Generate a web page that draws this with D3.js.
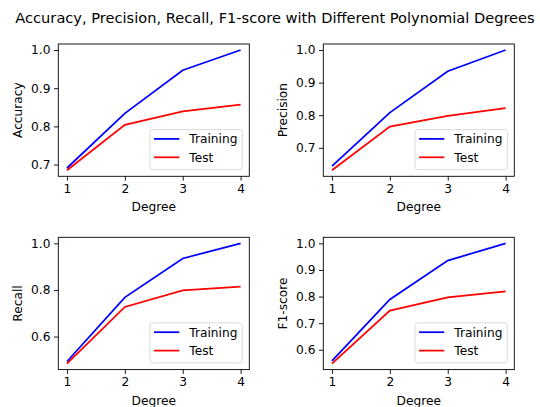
<!DOCTYPE html>
<html>
<head>
<meta charset="utf-8">
<script src="https://cdn.jsdelivr.net/npm/d3@7"></script>
<style>
  body { margin: 0; background: #fff; }
  text { font-family: "DejaVu Sans", sans-serif; fill: #000; }
</style>
</head>
<body>
<div id="chart"></div>
<script>
// data
const degrees = [1, 2, 3, 4];
const accuracyTrain = [0.691, 0.834, 0.947, 1.0];
const accuracyTest = [0.685, 0.804, 0.839, 0.857];
const precisionTrain = [0.644, 0.808, 0.935, 1.0];
const precisionTest = [0.631, 0.765, 0.798, 0.822];
const recallTrain = [0.493, 0.768, 0.935, 1.0];
const recallTest = [0.484, 0.727, 0.798, 0.814];
const f1Train = [0.558, 0.789, 0.935, 1.0];
const f1Test = [0.548, 0.747, 0.797, 0.819];
const accuracyTicks = [0.7, 0.8, 0.9, 1.0];
const precisionTicks = [0.7, 0.8, 0.9, 1.0];
const recallTicks = [0.6, 0.8, 1.0];
const f1Ticks = [0.6, 0.7, 0.8, 0.9, 1.0];
const seriesNames = ['Training', 'Test'];
const seriesColors = ['#0000ff', '#ff0000'];

const W = 540, H = 407;
const fs = '12.2px';
const svg = d3.select('#chart').append('svg')
    .attr('width', W).attr('height', H);

const title = svg.append('text')
    .attr('x', 275).attr('y', 22.5)
    .attr('text-anchor', 'middle')
    .style('font-size', '14.6px')
    .text('Accuracy, Precision, Recall, F1-score with Different Polynomial Degrees');
// fit the title to the width it has in the reference (x 15 .. 535)
const tw = title.node().getComputedTextLength();
title.style('font-size', (14.6 * 519 / tw).toFixed(2) + 'px');

const panels = [
    { label: 'Accuracy', train: accuracyTrain, test: accuracyTest, ticks: accuracyTicks, left: 58.3, top: 44 },
    { label: 'Precision', train: precisionTrain, test: precisionTest, ticks: precisionTicks, left: 323.3, top: 44 },
    { label: 'Recall', train: recallTrain, test: recallTest, ticks: recallTicks, left: 58.3, top: 237.3 },
    { label: 'F1-score', train: f1Train, test: f1Test, ticks: f1Ticks, left: 323.3, top: 237.3 }
];
const pw = 191, ph = 132.3;

panels.forEach(p => {
    const g = svg.append('g').attr('transform', `translate(${p.left},${p.top})`);

    const all = p.train.concat(p.test);
    const lo = d3.min(all), hi = d3.max(all), pad = (hi - lo) * 0.05;
    const x = d3.scaleLinear().domain([1 - 0.15, 4 + 0.15]).range([0, pw]);
    const y = d3.scaleLinear().domain([lo - pad, hi + pad]).range([ph, 0]);

    const xAxis = g.append('g').attr('transform', `translate(0,${ph})`)
        .call(d3.axisBottom(x).tickValues(degrees).tickFormat(d3.format('d')).tickSize(4.3).tickPadding(3.5));
    const yAxis = g.append('g')
        .call(d3.axisLeft(y).tickValues(p.ticks).tickFormat(d3.format('.1f')).tickSize(4.3).tickPadding(3.5));
    [xAxis, yAxis].forEach(a => {
        a.select('.domain').remove();
        a.selectAll('line').attr('stroke', '#000').attr('stroke-width', 0.9);
        a.selectAll('text').style('font-size', fs).attr('fill', '#000')
            .style('font-family', '"DejaVu Sans", sans-serif');
    });

    const line = d3.line().x((d, i) => x(degrees[i])).y(d => y(d));
    [p.train, p.test].forEach((vals, i) => {
        g.append('path').datum(vals)
            .attr('d', line)
            .attr('fill', 'none')
            .attr('stroke', seriesColors[i])
            .attr('stroke-width', 1.75);
    });

    // frame
    g.append('rect').attr('width', pw).attr('height', ph)
        .attr('fill', 'none').attr('stroke', '#000').attr('stroke-width', 0.9);

    g.append('text')
        .attr('x', pw / 2).attr('y', ph + 35)
        .attr('text-anchor', 'middle')
        .style('font-size', fs)
        .text('Degree');
    g.append('text')
        .attr('transform', `translate(-36.5,${ph / 2}) rotate(-90)`)
        .attr('text-anchor', 'middle')
        .style('font-size', fs)
        .text(p.label);

    // legend
    const lg = g.append('g').attr('transform', `translate(${pw - 99.3},${ph - 46.7})`);
    lg.append('rect').attr('width', 92.3).attr('height', 40).attr('rx', 2.5)
        .attr('fill', '#fff').attr('fill-opacity', 0.8)
        .attr('stroke', '#d6d6d6').attr('stroke-width', 0.9);
    seriesNames.forEach((name, i) => {
        const yy = 9.3 + i * 18.4;
        lg.append('line').attr('x1', 4).attr('x2', 29.3).attr('y1', yy).attr('y2', yy)
            .attr('stroke', seriesColors[i]).attr('stroke-width', 1.75);
        lg.append('text').attr('x', 39.3).attr('y', yy + 4.4)
            .style('font-size', fs).text(name);
    });
});
</script>
</body>
</html>
